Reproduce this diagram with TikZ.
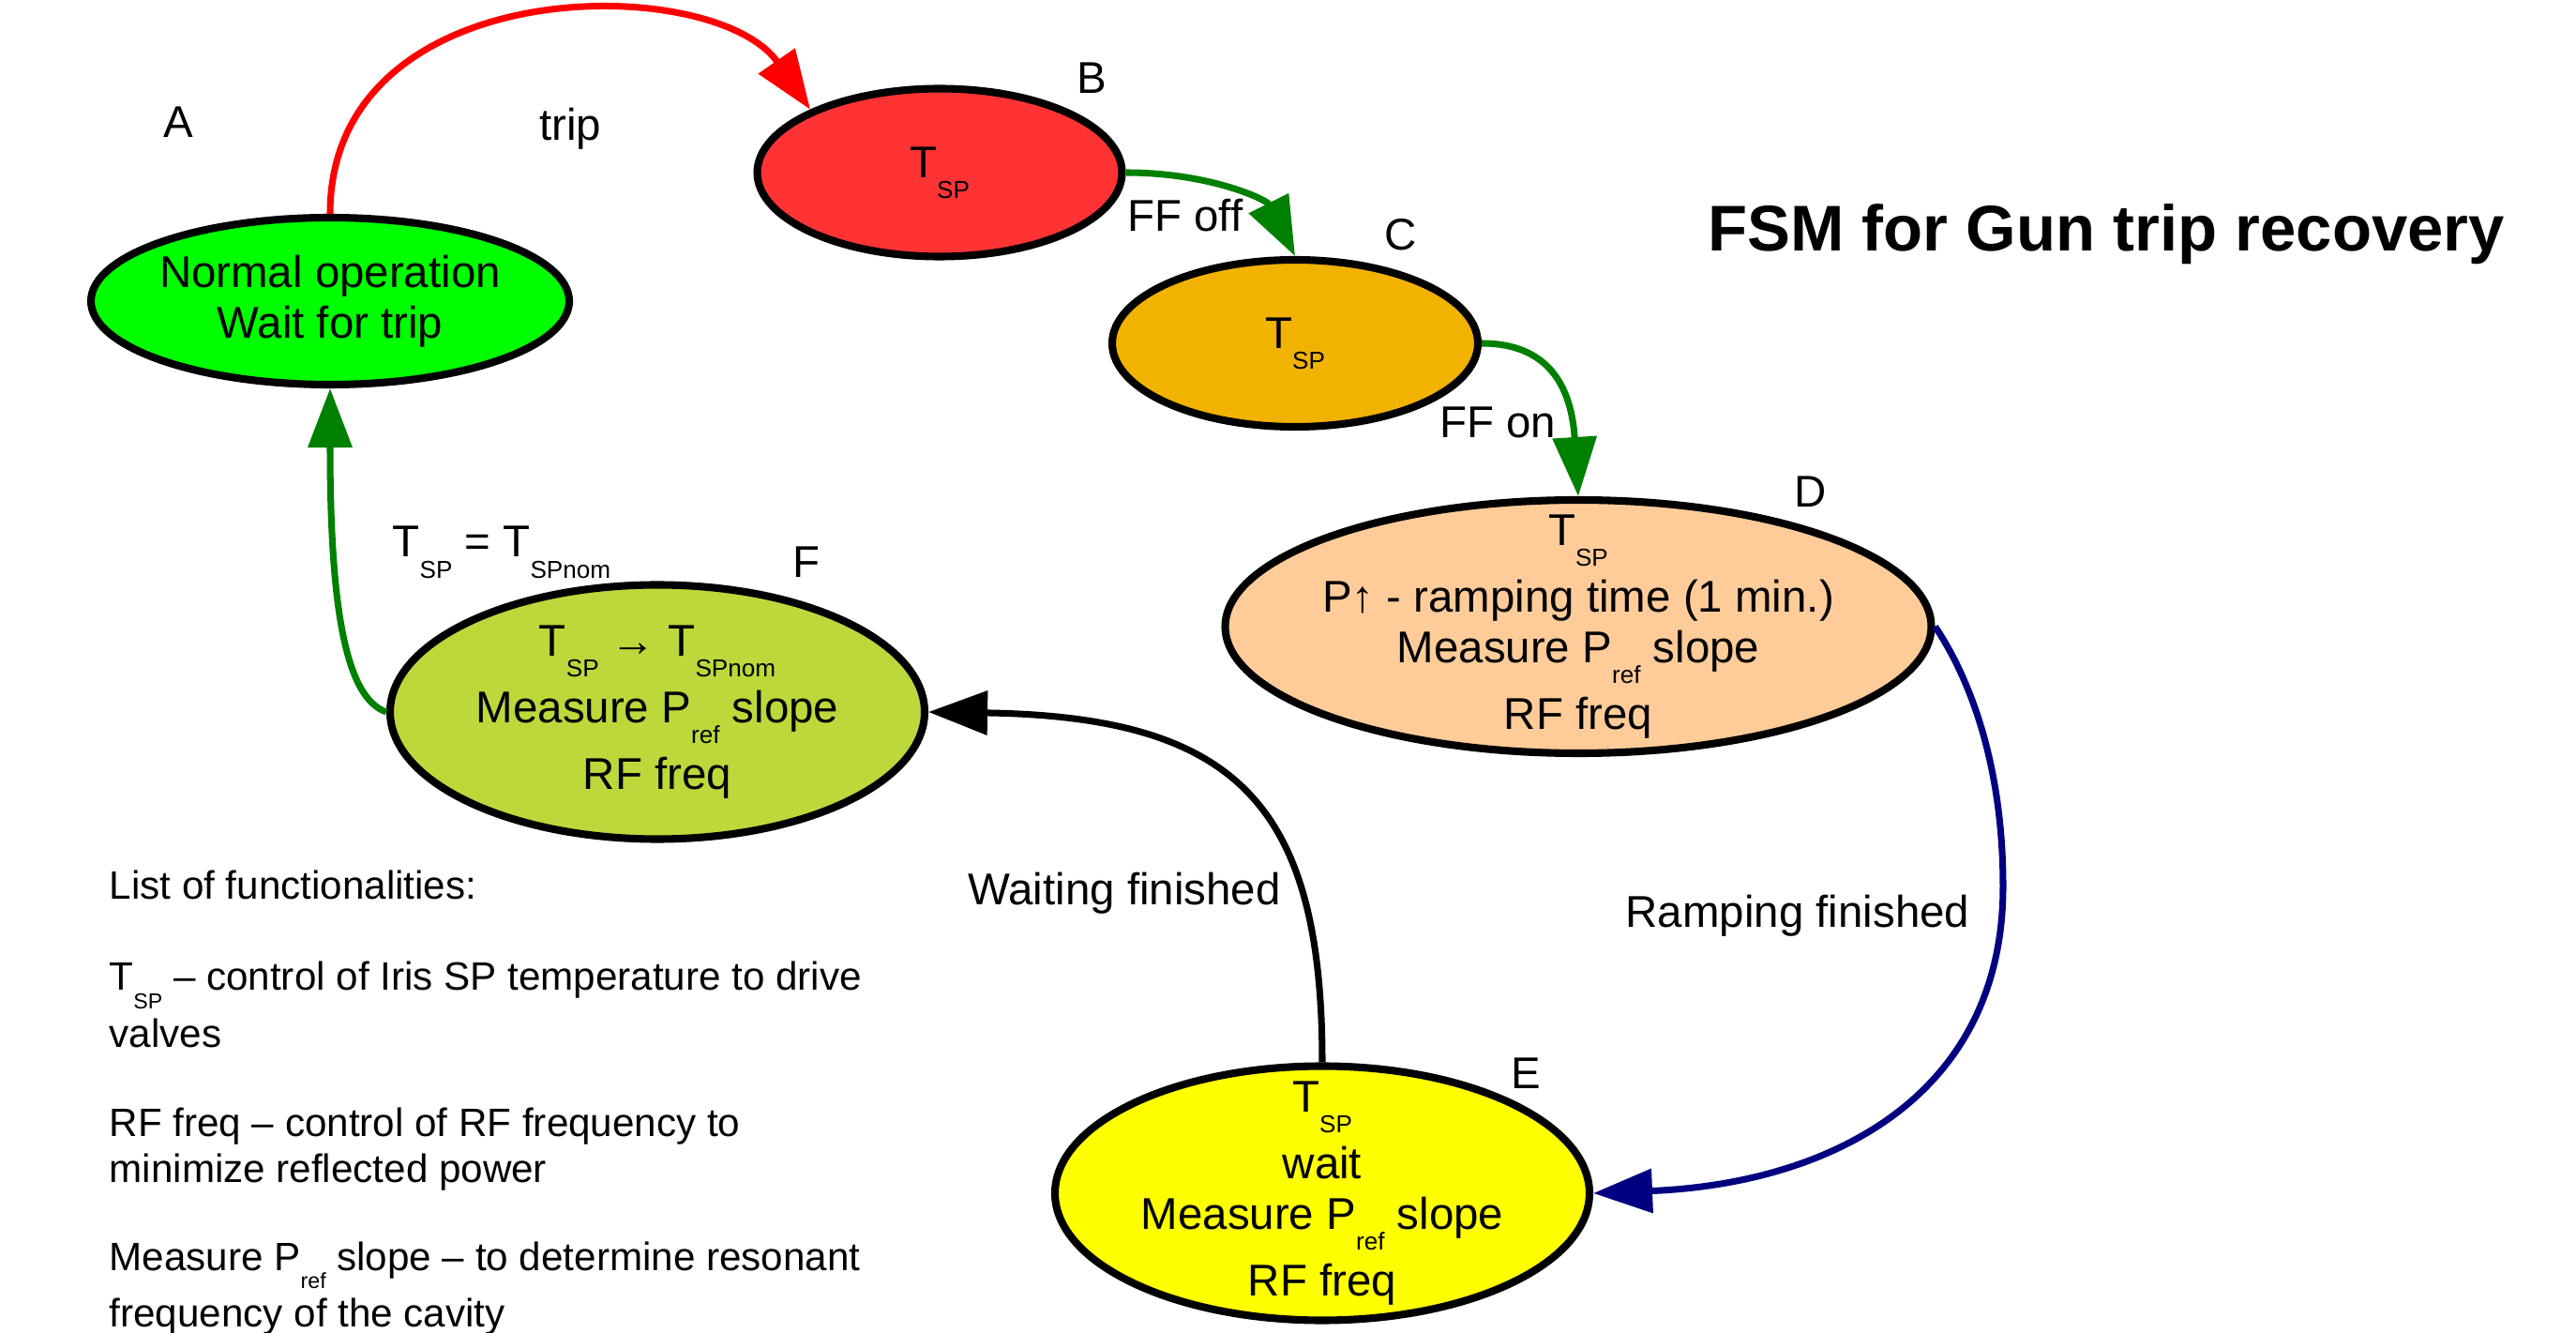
\documentclass[tikz,border=0pt]{standalone}
\usepackage{fontspec}
\setmainfont{Liberation Sans}
\usepackage{graphicx}
\usetikzlibrary{shapes.geometric, arrows.meta}

\definecolor{normalfill}{HTML}{00FF00}
\definecolor{trippedfill}{HTML}{FF3333}
\definecolor{ffofffill}{HTML}{F2B200}
\definecolor{rampfill}{HTML}{FFCC99}
\definecolor{waitfill}{HTML}{FFFF00}
\definecolor{restorefill}{HTML}{BCD83A}
\definecolor{okgreen}{HTML}{008000}
\definecolor{rampblue}{HTML}{000080}

\newcommand{\lo}[1]{\raisebox{-0.47em}{\scalebox{0.55}{#1}}}

\begin{document}
\begin{tikzpicture} [scale = 1,
  state/.style = {ellipse, draw = black, line width = 2.3pt, inner sep = 0pt},
  txt/.style = {font = \fontsize{13.5pt}{15.5pt}\selectfont\setlength{\lineskip}{4pt}, align = center, inner sep = 0pt},
  lst/.style = {font = \fontsize{12pt}{14pt}\selectfont, anchor = base west, inner sep = 0pt},
  trans/.style = {line width = 2pt, -{Triangle[length = 0.63cm, width = 0.46cm]}}]
\useasboundingbox (0, 0) rectangle (27.47, -14.21);

% states
\node[state, fill = normalfill, minimum width = 5.10cm, minimum height = 1.78cm,
  label = {[txt]center:Normal operation\\Wait for trip}] (normal) at (3.52, -3.21) {};
\node[state, fill = trippedfill, minimum width = 3.89cm, minimum height = 1.79cm,
  label = {[txt]center:T\lo{SP}}] (tripped) at (10.02, -1.84) {};
\node[state, fill = ffofffill, minimum width = 3.90cm, minimum height = 1.78cm,
  label = {[txt]center:T\lo{SP}}] (ffoff) at (13.81, -3.66) {};
\node[state, fill = rampfill, minimum width = 7.53cm, minimum height = 2.70cm,
  label = {[txt]center:T\lo{SP}\\P↑ - ramping time (1 min.)\\Measure P\lo{ref} slope\\RF freq}] (ramping) at (16.83, -6.68) {};
\node[state, fill = waitfill, minimum width = 5.70cm, minimum height = 2.71cm,
  label = {[txt]center:T\lo{SP}\\wait\\Measure P\lo{ref} slope\\RF freq}] (waiting) at (14.10, -12.72) {};
\node[state, fill = restorefill, minimum width = 5.70cm, minimum height = 2.71cm,
  label = {[txt]center:T\lo{SP} → T\lo{SPnom}\\Measure P\lo{ref} slope\\RF freq}] (restore) at (7.01, -7.59) {};

% state letters
\node[txt, anchor = base] (lA) at (1.90, -1.47) {A};
\node[txt, anchor = base] (lB) at (11.64, -1.00) {B};
\node[txt, anchor = base] (lC) at (14.94, -2.67) {C};
\node[txt, anchor = base] (lD) at (19.31, -5.41) {D};
\node[txt, anchor = base] (lE) at (16.27, -11.61) {E};
\node[txt, anchor = base] (lF) at (8.60, -6.16) {F};

% transitions
\draw[trans, red] (normal.north) .. controls +(0, 2.6) and +(-1.02, 1.47) .. (tripped.154);
\draw[trans, okgreen] (tripped.east) .. controls +(0.9, 0) and +(-0.3, 0.6) .. (ffoff.north);
\draw[trans, okgreen] (ffoff.east) .. controls +(0.6, 0) and +(-0.08, 1.3) .. (ramping.north);
\coordinate (bend) at (21.36, -9.45);
\draw[trans, rampblue] (ramping.east) .. controls (20.92, -7.10) and (21.36, -8.00) .. (bend)
  .. controls (21.36, -11.70) and (19.50, -12.62) .. (waiting.east);
\draw[trans, black] (waiting.north) .. controls +(0, 2.75) and +(3.28, -0.05) .. (restore.east);
\draw[trans, okgreen] (restore.west) .. controls +(-0.43, 0.15) and +(0, -2.36) .. (normal.south);

% transition labels
\node[txt, anchor = base] (ltrip) at (6.08, -1.50) {trip};
\node[txt, anchor = base] (lffoff) at (12.64, -2.47) {FF off};
\node[txt, anchor = base] (lffon) at (15.97, -4.67) {FF on};
\node[txt, anchor = base] (lramp) at (19.17, -9.89) {Ramping finished};
\node[txt, anchor = base] (lwait) at (11.99, -9.65) {Waiting finished};
\node[txt, anchor = base west] (lnom) at (4.18, -5.94) {T\lo{SP} = T\lo{SPnom}};

% title
\node[anchor = base, inner sep = 0pt, font = \bfseries\fontsize{19.6pt}{22pt}\selectfont] (title) at (22.46, -2.68) {FSM for Gun trip recovery};

% list of functionalities
\node[lst] (list0) at (1.16, -9.59) {List of functionalities:};
\node[lst] (list1) at (1.16, -10.56) {T\lo{SP} – control of Iris SP temperature to drive};
\node[lst] (list1b) at (1.16, -11.16) {valves};
\node[lst] (list2) at (1.16, -12.12) {RF freq – control of RF frequency to};
\node[lst] (list2b) at (1.16, -12.60) {minimize reflected power};
\node[lst] (list3) at (1.16, -13.54) {Measure P\lo{ref} slope – to determine resonant};
\node[lst] (list3b) at (1.16, -14.14) {frequency of the cavity};
\end{tikzpicture}
\end{document}
